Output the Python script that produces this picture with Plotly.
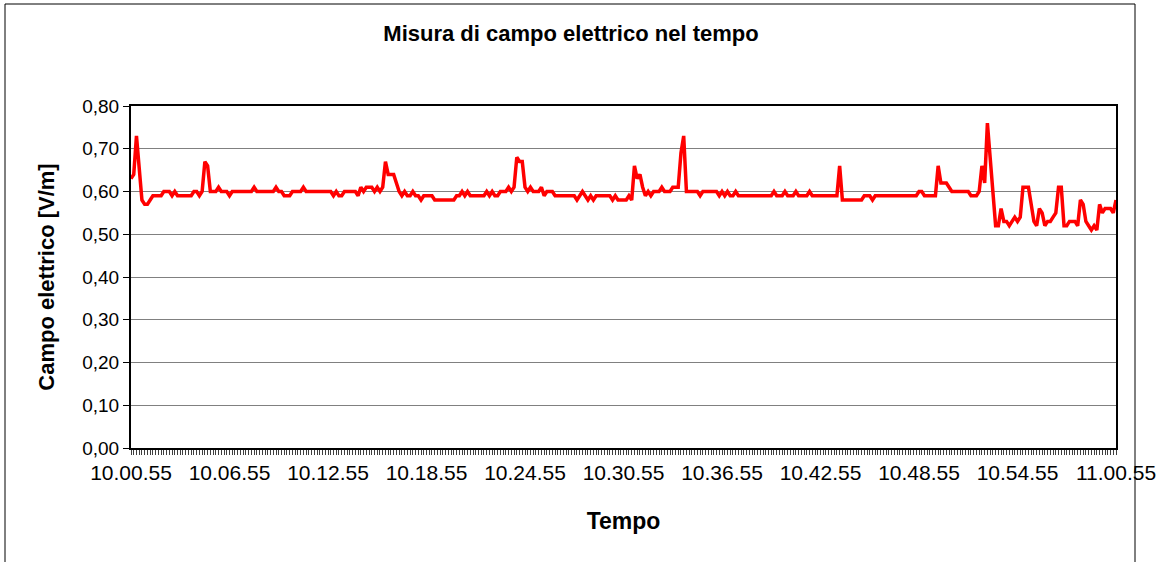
import plotly.graph_objects as go

# ---- data ----
# sample index: one reading every 10 s from 10.00.55 to 11.00.55 (361 samples)
campo = [
    0.63, 0.64, 0.73, 0.65, 0.58, 0.57, 0.57, 0.58, 0.59, 0.59,
    0.59, 0.59, 0.60, 0.60, 0.60, 0.59, 0.60, 0.59, 0.59, 0.59,
    0.59, 0.59, 0.59, 0.60, 0.60, 0.59, 0.60, 0.67, 0.66, 0.60,
    0.60, 0.60, 0.61, 0.60, 0.60, 0.60, 0.59, 0.60, 0.60, 0.60,
    0.60, 0.60, 0.60, 0.60, 0.60, 0.61, 0.60, 0.60, 0.60, 0.60,
    0.60, 0.60, 0.60, 0.61, 0.60, 0.60, 0.59, 0.59, 0.59, 0.60,
    0.60, 0.60, 0.60, 0.61, 0.60, 0.60, 0.60, 0.60, 0.60, 0.60,
    0.60, 0.60, 0.60, 0.60, 0.59, 0.60, 0.59, 0.59, 0.60, 0.60,
    0.60, 0.60, 0.60, 0.59, 0.61, 0.60, 0.61, 0.61, 0.61, 0.60,
    0.61, 0.60, 0.61, 0.67, 0.64, 0.64, 0.64, 0.62, 0.60, 0.59,
    0.60, 0.59, 0.59, 0.60, 0.59, 0.59, 0.58, 0.59, 0.59, 0.59,
    0.59, 0.58, 0.58, 0.58, 0.58, 0.58, 0.58, 0.58, 0.58, 0.59,
    0.59, 0.60, 0.59, 0.60, 0.59, 0.59, 0.59, 0.59, 0.59, 0.59,
    0.60, 0.59, 0.60, 0.59, 0.59, 0.60, 0.60, 0.60, 0.61, 0.60,
    0.61, 0.68, 0.67, 0.67, 0.61, 0.60, 0.61, 0.60, 0.60, 0.60,
    0.61, 0.59, 0.60, 0.60, 0.60, 0.59, 0.59, 0.59, 0.59, 0.59,
    0.59, 0.59, 0.59, 0.58, 0.59, 0.60, 0.59, 0.58, 0.59, 0.58,
    0.59, 0.59, 0.59, 0.59, 0.59, 0.59, 0.58, 0.59, 0.58, 0.58,
    0.58, 0.58, 0.59, 0.58, 0.66, 0.63, 0.64, 0.61, 0.59, 0.60,
    0.59, 0.60, 0.60, 0.60, 0.61, 0.60, 0.60, 0.60, 0.61, 0.61,
    0.61, 0.69, 0.73, 0.60, 0.60, 0.60, 0.60, 0.60, 0.59, 0.60,
    0.60, 0.60, 0.60, 0.60, 0.60, 0.59, 0.60, 0.59, 0.60, 0.59,
    0.59, 0.60, 0.59, 0.59, 0.59, 0.59, 0.59, 0.59, 0.59, 0.59,
    0.59, 0.59, 0.59, 0.59, 0.59, 0.60, 0.59, 0.59, 0.59, 0.60,
    0.59, 0.59, 0.59, 0.60, 0.59, 0.59, 0.59, 0.59, 0.60, 0.59,
    0.59, 0.59, 0.59, 0.59, 0.59, 0.59, 0.59, 0.59, 0.59, 0.66,
    0.58, 0.58, 0.58, 0.58, 0.58, 0.58, 0.58, 0.58, 0.59, 0.59,
    0.59, 0.58, 0.59, 0.59, 0.59, 0.59, 0.59, 0.59, 0.59, 0.59,
    0.59, 0.59, 0.59, 0.59, 0.59, 0.59, 0.59, 0.59, 0.60, 0.60,
    0.59, 0.59, 0.59, 0.59, 0.59, 0.66, 0.62, 0.62, 0.62, 0.61,
    0.60, 0.60, 0.60, 0.60, 0.60, 0.60, 0.60, 0.59, 0.59, 0.59,
    0.60, 0.66, 0.62, 0.76, 0.68, 0.60, 0.52, 0.52, 0.56, 0.53,
    0.53, 0.52, 0.53, 0.54, 0.53, 0.54, 0.61, 0.61, 0.61, 0.57,
    0.53, 0.52, 0.56, 0.55, 0.52, 0.53, 0.53, 0.54, 0.55, 0.61,
    0.61, 0.52, 0.52, 0.53, 0.53, 0.53, 0.52, 0.58, 0.57, 0.53,
    0.52, 0.51, 0.52, 0.51, 0.57, 0.55, 0.56, 0.56, 0.56, 0.55,
    0.58,
]
campioni = list(range(len(campo)))

tick_labels = ["10.00.55", "10.06.55", "10.12.55", "10.18.55", "10.24.55",
               "10.30.55", "10.36.55", "10.42.55", "10.48.55", "10.54.55",
               "11.00.55"]
label_step = 36  # one label every 36 samples (6 minutes)

ticktext = [""] * len(campo)
for k, lab in enumerate(tick_labels):
    ticktext[k * label_step] = lab

FONT = "Liberation Sans, Arial, sans-serif"

fig = go.Figure()
fig.add_trace(go.Scatter(
    x=campioni, y=campo, mode="lines",
    line=dict(color="#FF0000", width=3.5),
    showlegend=False, hoverinfo="y",
))

L, R, T, B = 131, 40, 106, 114
W, H = 1156, 562
pw, ph = W - L - R, H - T - B

fig.update_layout(
    width=W, height=H,
    margin=dict(l=L, r=R, t=T, b=B, pad=0, autoexpand=False),
    paper_bgcolor="white", plot_bgcolor="white",
    separators=",.",
    font=dict(family=FONT, size=19, color="black"),
    title=dict(text="<b>Misura di campo elettrico nel tempo</b>",
               x=571 / W, xref="container", xanchor="center",
               y=1 - 33 / H, yref="container", yanchor="middle",
               automargin=False,
               font=dict(family=FONT, size=22, color="black")),
    xaxis=dict(
        range=[0, len(campo) - 1],
        tickmode="array", tickvals=campioni, ticktext=ticktext,
        ticks="outside", ticklen=5, tickwidth=1, tickcolor="#404040",
        showgrid=False, zeroline=False, automargin=False,
        ticklabeloverflow="allow",
        showline=True, linecolor="black", linewidth=2, mirror=True,
        tickfont=dict(size=21),
        title=dict(text="<b>Tempo</b>", standoff=30,
                   font=dict(family=FONT, size=23)),
    ),
    yaxis=dict(
        range=[0, 0.8], dtick=0.1, tick0=0, tickformat=".2f",
        ticks="outside", ticklen=6, tickcolor="black",
        showgrid=True, gridcolor="#808080", gridwidth=1,
        zeroline=False, automargin=False,
        showline=True, linecolor="black", linewidth=2, mirror=True,
        tickfont=dict(size=19),
        title=dict(text="<b>Campo elettrico [V/m]</b>", standoff=22,
                   font=dict(family=FONT, size=22)),
    ),
    shapes=[dict(
        type="rect", xref="paper", yref="paper", layer="below",
        x0=(5 - L) / pw, x1=(1135 - L) / pw,
        y0=(H - B - 620) / ph, y1=(H - B - 4) / ph,
        line=dict(color="black", width=1), fillcolor="rgba(0,0,0,0)",
    )],
)

fig.write_html("out.html", config={"displayModeBar": False},
               post_script="document.body.style.margin='0px';")
